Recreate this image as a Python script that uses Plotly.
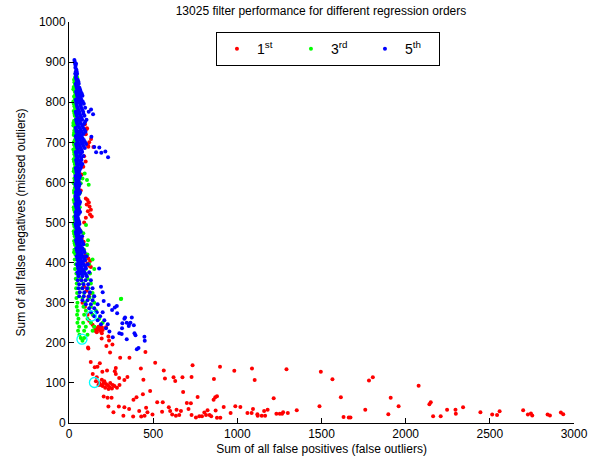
import plotly.graph_objects as go

# (false positives, false negatives) per filter setting, one list per regression order
order1_pts = [
    (107, 735), (105, 733), (113, 692), (131, 708), (115, 689), (145, 688), (120, 700), (100, 720),
    (95, 745), (85, 639), (99, 652), (90, 665), (80, 700), (70, 760), (60, 800), (65, 720),
    (55, 680), (75, 620), (60, 600), (70, 580),
    (100, 560), (110, 556), (118, 550), (105, 545), (122, 540), (130, 532), (112, 528), (125, 520),
    (135, 515), (100, 512), (90, 500), (65, 480), (87, 452), (75, 460), (60, 440),
    (105, 414), (115, 410), (125, 404), (110, 398), (120, 392), (130, 389), (100, 420), (95, 405),
    (80, 380), (70, 360), (90, 340), (115, 315), (125, 323), (105, 330), (80, 300), (95, 290),
    (110, 270), (120, 255),
    (150, 240), (160, 236), (170, 232), (180, 234), (190, 228), (165, 226), (175, 240), (185, 238),
    (155, 230), (196, 238), (220, 239), (200, 232), (195, 224), (140, 245), (130, 250),
    (113, 188), (115, 186), (194, 211), (238, 206), (258, 196), (234, 216), (222, 192), (244, 176),
    (183, 149), (304, 163), (359, 163), (454, 177), (129, 152), (153, 139), (169, 140), (278, 137),
    (272, 129), (141, 122), (198, 128), (226, 131), (165, 114), (278, 122), (298, 112), (347, 115),
    (329, 107), (427, 136), (442, 108),
    (180, 100), (190, 95), (200, 92), (205, 100), (215, 88), (220, 97), (230, 94), (240, 90),
    (245, 100), (255, 86), (260, 95), (270, 92), (285, 88), (300, 95), (210, 104), (235, 85),
    (195, 108), (175, 95), (160, 104),
    (482, 80), (439, 72), (206, 66), (229, 63), (253, 63), (401, 64), (383, 58), (234, 41),
    (296, 41), (329, 39), (264, 27), (323, 18), (357, 35), (381, 16), (417, 30), (429, 16),
    (458, 38), (466, 27), (449, 18), (496, 21),
    (512, 150), (563, 131), (570, 111), (621, 114), (631, 105), (674, 114), (678, 77),
    (524, 52), (557, 52), (593, 39), (553, 28), (601, 30), (639, 33), (613, 21), (635, 18),
    (655, 20), (665, 30), (700, 50), (710, 35),
    (734, 144), (728, 115), (724, 49), (764, 65), (728, 20), (754, 14), (774, 17), (790, 17),
    (804, 26), (814, 20), (823, 32), (835, 20), (845, 17), (859, 58), (869, 64), (879, 67),
    (861, 110), (897, 140), (871, 31), (879, 13), (899, 13), (919, 40), (960, 25), (982, 130),
    (988, 42), (1018, 40), (1060, 25), (1085, 25), (1087, 136), (1103, 107), (1093, 35), (1119, 22),
    (1121, 18), (1145, 18), (1159, 30), (1165, 18), (1180, 33), (1216, 62), (1232, 23), (1252, 23),
    (1266, 23), (1272, 27), (1300, 25), (1292, 134), (1353, 32), (1488, 42), (1496, 128), (1565, 109),
    (1615, 64), (1631, 15),
    (1662, 14), (1672, 14), (1782, 106), (1805, 114), (1760, 33), (1897, 22), (1911, 63), (1958, 42),
    (2077, 93), (2141, 47), (2149, 52), (2163, 17), (2208, 17), (2246, 33), (2296, 33), (2298, 23),
    (2341, 39),
    (2444, 27), (2514, 21), (2543, 20), (2558, 29), (2698, 32), (2726, 21), (2744, 24), (2752, 19),
    (2843, 21), (2857, 19), (2922, 26), (2936, 22),
]

order3_pts = [
    (40, 872), (36, 862), (48, 862), (32, 850), (44, 850), (28, 838), (40, 838), (34, 826),
    (46, 826), (30, 814), (42, 814), (26, 802), (38, 802), (50, 802), (32, 790), (44, 790),
    (28, 778), (40, 778), (54, 778), (34, 766), (46, 766), (30, 754), (42, 754), (26, 742),
    (38, 742), (52, 742), (32, 730), (44, 730), (28, 718), (40, 718), (56, 718), (34, 706),
    (48, 706), (30, 694), (42, 694), (26, 682), (38, 682), (54, 682), (32, 670), (46, 670),
    (28, 658), (40, 658), (34, 646), (50, 646), (30, 634), (42, 634), (62, 634), (36, 622),
    (52, 622), (93, 622), (32, 610), (46, 610), (80, 610), (107, 606), (28, 598), (42, 598),
    (70, 598), (117, 594), (34, 586), (52, 586), (30, 574), (44, 574), (66, 574), (36, 562),
    (56, 562), (32, 550), (48, 550), (28, 538), (42, 538), (64, 538), (34, 526), (54, 526),
    (30, 514), (46, 514), (36, 502), (58, 502), (101, 494), (32, 490), (48, 490), (28, 478),
    (44, 478), (70, 478), (85, 473), (34, 466), (56, 466), (113, 456), (30, 454), (48, 454),
    (76, 454), (107, 444), (36, 444), (60, 444), (32, 432), (52, 432), (90, 432), (38, 420),
    (64, 420), (110, 420), (34, 408), (58, 408), (96, 408), (140, 408), (40, 396), (70, 396),
    (120, 396), (36, 384), (62, 384), (100, 384), (150, 384), (125, 373), (44, 373), (80, 373),
    (40, 360), (70, 360), (110, 360), (46, 348), (84, 348), (130, 348), (42, 336), (76, 336),
    (116, 336), (48, 324), (90, 324), (140, 324), (145, 315), (310, 310), (44, 312), (80, 312),
    (120, 312), (308, 309), (50, 300), (96, 300), (150, 300), (46, 290), (86, 290), (130, 290),
    (52, 280), (100, 280), (160, 280), (48, 270), (90, 270), (140, 270), (56, 260), (110, 260),
    (180, 260), (50, 250), (84, 250), (130, 250), (200, 250), (60, 240), (100, 240), (150, 240),
    (54, 230), (90, 230), (140, 230), (62, 220), (110, 220), (70, 212), (90, 212), (80, 205),
    (44, 868), (30, 856), (40, 856), (36, 844), (26, 832), (42, 832), (38, 820), (34, 808),
    (46, 808), (28, 796), (40, 796), (36, 784), (48, 784), (32, 772), (42, 760), (26, 748),
    (46, 748), (36, 736), (30, 724), (50, 724), (40, 712), (28, 700), (46, 700), (36, 688),
    (30, 676), (42, 676), (36, 664), (30, 652), (44, 652), (38, 640), (28, 628), (46, 628),
    (40, 616), (34, 604), (38, 592), (30, 580), (48, 580), (40, 568), (28, 556), (44, 556),
    (38, 544), (30, 532), (48, 532), (40, 520), (34, 508), (28, 496), (44, 496), (38, 484),
    (30, 472), (48, 472), (40, 460), (34, 448), (44, 438), (30, 426), (50, 426),
]

order5_pts = [
    (32, 905), (36, 896), (42, 896), (38, 886), (40, 876), (46, 876), (42, 866), (44, 856),
    (52, 856), (40, 846), (58, 846), (46, 836), (62, 836), (42, 826), (55, 826), (70, 826),
    (48, 816), (64, 816), (80, 816), (40, 806), (58, 806), (74, 806), (44, 796), (66, 796),
    (88, 796), (50, 786), (72, 786), (96, 786), (40, 776), (60, 776), (84, 776), (117, 776),
    (143, 770), (131, 782), (46, 766), (68, 766), (92, 766), (42, 756), (56, 756), (78, 756),
    (104, 756), (48, 746), (70, 746), (90, 746), (40, 736), (62, 736), (84, 736), (44, 726),
    (58, 726), (76, 726), (98, 726), (40, 716), (54, 716), (72, 716), (133, 714), (46, 706),
    (66, 706), (88, 706), (42, 696), (60, 696), (80, 696), (102, 696), (48, 686), (70, 686),
    (94, 686), (180, 687), (150, 688), (161, 675), (192, 674), (216, 677), (232, 663), (40, 676),
    (58, 676), (78, 676), (44, 666), (64, 666), (86, 666), (42, 656), (56, 656), (74, 656),
    (46, 646), (62, 646), (80, 646), (40, 636), (54, 636), (70, 636), (44, 626), (60, 626),
    (38, 616), (52, 616), (66, 616), (42, 606), (58, 606), (38, 596), (50, 596), (64, 596),
    (44, 586), (56, 586), (40, 576), (52, 576), (66, 576), (38, 566), (50, 566), (42, 556),
    (58, 556), (38, 546), (50, 546), (62, 546), (44, 536), (56, 536), (40, 526), (52, 526),
    (66, 526), (38, 516), (50, 516), (42, 506), (56, 506), (38, 496), (48, 496), (62, 496),
    (44, 486), (58, 486), (40, 476), (52, 476), (70, 476), (46, 466), (60, 466), (78, 466),
    (42, 456), (56, 456), (74, 456), (48, 446), (64, 446), (86, 446), (44, 436), (60, 436),
    (80, 436), (50, 426), (70, 426), (92, 426), (46, 416), (64, 416), (84, 416), (104, 416),
    (52, 406), (72, 406), (96, 406), (48, 396), (66, 396), (88, 396), (112, 396), (54, 386),
    (76, 386), (100, 386), (179, 385), (50, 376), (70, 376), (92, 376), (120, 376), (56, 366),
    (80, 366), (106, 366), (52, 356), (74, 356), (98, 356), (130, 356), (60, 346), (86, 346),
    (114, 346), (190, 340), (56, 336), (80, 336), (108, 336), (140, 336), (64, 326), (92, 326),
    (124, 326), (200, 326), (60, 316), (88, 316), (118, 316), (150, 316), (80, 306), (110, 306),
    (140, 306), (206, 304), (100, 296), (130, 296), (170, 296), (236, 294), (120, 286), (150, 286),
    (256, 282), (272, 288), (284, 292), (130, 276), (165, 276), (200, 276), (286, 274), (150, 266),
    (185, 266), (333, 263), (329, 260), (373, 263), (170, 256), (210, 256), (343, 250), (357, 247),
    (317, 249), (365, 250), (190, 246), (230, 246), (385, 244), (355, 242), (220, 236), (315, 236),
    (299, 224), (313, 222), (389, 224), (395, 219), (448, 215), (450, 205), (343, 209), (413, 187),
    (403, 184), (240, 228), (260, 214),
    (34, 901), (39, 891), (44, 881), (37, 871), (48, 871), (41, 861), (47, 851), (56, 851),
    (43, 841), (52, 841), (66, 831), (49, 831), (45, 821), (60, 821), (76, 821), (51, 811),
    (68, 811), (43, 801), (62, 801), (82, 801), (47, 791), (70, 791), (55, 781), (78, 781),
    (43, 771), (63, 771), (86, 771), (51, 761), (74, 761), (45, 751), (65, 751), (96, 751),
    (53, 741), (79, 741), (43, 731), (68, 731), (92, 731), (49, 721), (64, 721), (86, 721),
    (43, 711), (60, 711), (80, 711), (51, 701), (73, 701), (95, 701), (45, 691), (64, 691),
    (86, 691), (53, 681), (75, 681), (43, 671), (68, 671), (49, 661), (72, 661), (45, 651),
    (67, 651), (51, 641), (72, 641), (43, 631), (63, 631), (47, 621), (57, 621), (41, 611),
    (62, 611), (45, 601), (56, 601), (41, 591), (60, 591), (47, 581), (58, 581), (43, 571),
    (61, 571), (41, 561), (54, 561), (45, 551), (66, 551), (41, 541), (53, 541), (47, 531),
    (60, 531), (43, 521), (58, 521), (41, 511), (53, 511), (45, 501), (60, 501), (41, 491),
    (53, 491), (47, 481), (64, 481), (43, 471), (56, 471), (49, 461), (68, 461), (45, 451),
    (62, 451), (80, 451), (52, 441), (70, 441), (47, 431), (66, 431), (86, 431), (55, 421),
    (74, 421), (50, 411), (68, 411), (90, 411), (58, 401), (80, 401), (53, 391), (72, 391),
    (96, 391), (60, 381), (84, 381), (55, 371), (76, 371), (100, 371),
]

# best setting of each order, marked with an open circle
best_pts = [(151, 101), (77, 209), (133, 267)]

series = [
    ("1<sup>st</sup>", order1_pts, "#ff0000"),
    ("3<sup>rd</sup>", order3_pts, "#00ff00"),
    ("5<sup>th</sup>", order5_pts, "#0000ff"),
]

fig = go.Figure()
for name, pts, color in series:
    fig.add_trace(go.Scatter(
        x=[p[0] for p in pts], y=[p[1] for p in pts],
        mode="markers", name=name,
        marker=dict(color=color, size=4, line=dict(width=0)),
    ))

fig.add_trace(go.Scatter(
    x=[p[0] for p in best_pts], y=[p[1] for p in best_pts],
    mode="markers", showlegend=False,
    marker=dict(symbol="circle-open", color="#00ffff", size=10, line=dict(width=1.3, color="#00ffff")),
))

font = "Liberation Sans, Arial, Helvetica, sans-serif"
axis_common = dict(
    showline=True, linecolor="black", linewidth=1, mirror=False,
    ticks="inside", ticklen=5, tickcolor="black", tickwidth=1,
    showgrid=False, zeroline=False,
    tickfont=dict(family=font, size=12, color="black"),
)

fig.update_layout(
    width=600, height=463,
    template="none",
    paper_bgcolor="white", plot_bgcolor="white",
    margin=dict(l=69, r=26, t=22, b=40),
    font=dict(family=font, size=12, color="black"),
    title=dict(text="13025 filter performance for different regression orders",
               x=0.535, xanchor="center", y=0.976, yanchor="middle",
               font=dict(family=font, size=12, color="black")),
    xaxis=dict(range=[0, 3000], tickvals=[0, 500, 1000, 1500, 2000, 2500, 3000],
               title=dict(text="Sum of all false positives (false outliers)", standoff=4,
                          font=dict(family=font, size=12)),
               **axis_common),
    yaxis=dict(range=[0, 1000], tickvals=list(range(0, 1001, 100)),
               title=dict(text="Sum of all false negatives (missed outliers)", standoff=10,
                          font=dict(family=font, size=12)),
               **axis_common),
    legend=dict(orientation="h", x=0.291, xanchor="left", y=0.975, yanchor="top",
                bgcolor="white", bordercolor="black", borderwidth=1,
                font=dict(family=font, size=14, color="black"),
                entrywidth=29, itemsizing="trace"),
)

fig.write_html("out.html")
